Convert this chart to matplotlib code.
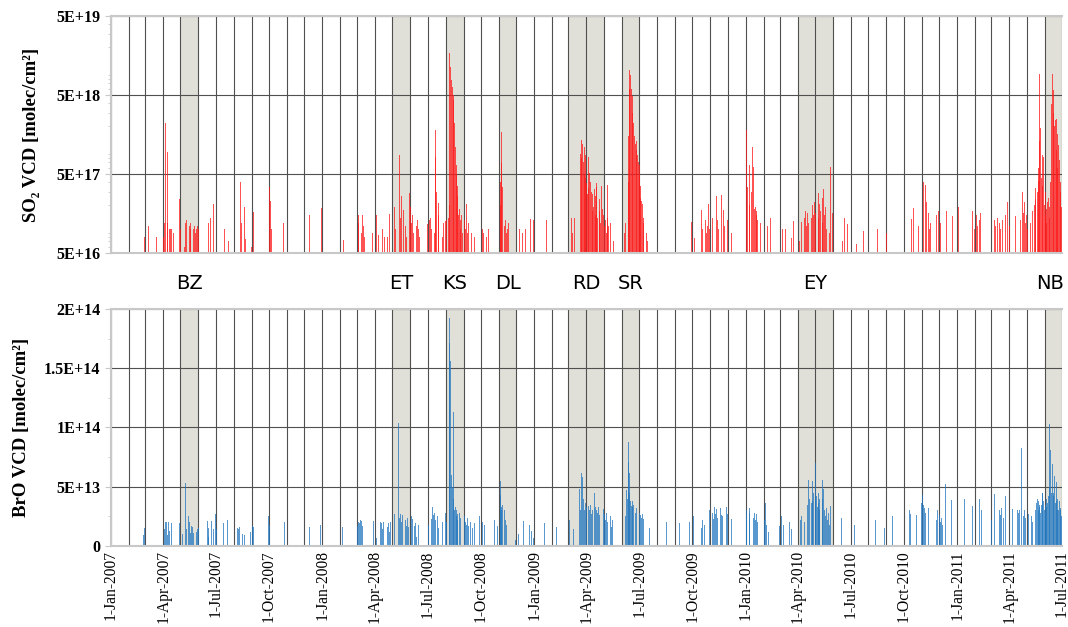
import datetime as dt
import matplotlib
matplotlib.use("Agg")
import matplotlib.pyplot as plt
import matplotlib.dates as mdates
from matplotlib.ticker import FixedLocator, LogLocator, MultipleLocator, FuncFormatter, NullFormatter

# SO2 daily values, units of 1E+16 molec/cm2 ("MM-DD", value)
so2_2007 = [("02-20",10),("02-28",8),("03-07",11),("03-20",8),("04-02",8),("04-04",12),("04-05",220),("04-06",29),
            ("04-08",95),("04-09",12),("04-12",10),("04-14",10),("04-16",10),("04-18",40),("04-19",9),("04-30",24),
            ("05-01",10),("05-08",6),("05-10",12),("05-12",13),("05-14",9),("05-16",11),("05-18",12),("05-19",10),
            ("05-21",12),("05-23",10),("05-25",11),("05-27",9),("05-29",10),("05-31",11),("06-01",10),("06-19",12),
            ("06-22",14),("06-27",21),("07-03",14),("07-16",10),("07-23",7),("08-10",6),("08-13",40),("08-14",12),
            ("08-19",19),("08-22",7.5),("09-01",6),("09-04",16.5),("09-05",14),("10-01",65),("10-02",34),("10-03",23),
            ("10-05",10),("10-26",12),("11-25",34),("12-10",15),("12-31",18.5)]
so2_2008 = [("02-07",7.3),("03-03",15),("03-04",12),("03-06",14),("03-08",9),("03-10",15),("03-12",11),("03-14",8),
            ("03-25",15.5),("03-27",9),("04-04",15),("04-07",8.5),("04-14",10),("04-17",8),("04-22",8),("04-26",15.5),
            ("05-05",19),("05-07",10),("05-09",16),("05-13",87),("05-14",35),("05-15",14),("05-17",26),("05-20",17.5),
            ("05-23",11),("05-25",8),("05-31",29),("06-01",19),("06-03",12),("06-05",15),("06-07",9),("06-09",17),
            ("06-11",11),("06-13",13),("06-15",10),("06-17",8),
            ("07-01",11.5),("07-04",13),("07-06",14),("07-08",10),("07-10",12),("07-12",9),("07-14",180),("07-15",82),
            ("07-16",30),("07-17",40),("07-19",21.5),("07-20",15),("07-22",9),("07-24",10),("07-26",8),("07-28",12),
            ("08-01",12.6),("08-03",13),("08-05",12),("08-06",14),("08-07",20),("08-08",1700),("08-09",1140),
            ("08-10",900),("08-11",780),("08-12",700),("08-13",640),("08-14",500),("08-15",430),("08-16",220),
            ("08-17",150),("08-18",110),("08-19",65),("08-20",50),("08-21",35),("08-22",26),("08-23",15),("08-24",12),
            ("08-25",18),("08-26",13),("08-27",10),("08-28",15),("08-29",12),("08-30",9),("08-31",14),
            ("09-02",13),("09-04",10),("09-06",21),("09-08",9),("09-10",12),("09-12",20),("09-14",9),("09-17",11),
            ("09-20",8),("09-24",10),("10-01",12),("10-03",10),("10-05",9),("10-08",11),("10-11",8),("10-14",10),
            ("10-25",16),("10-27",10),("11-03",20),("11-04",40),("11-05",170),("11-06",69),("11-07",34),("11-08",14),
            ("11-10",11),("11-12",13),("11-14",9),("11-16",10),("11-18",12),("11-20",8),
            ("12-07",10),("12-12",9),("12-17",10),("12-25",13.5),("12-30",13)]
so2_2009 = [("01-22",13),("02-11",11.5),("03-06",14),("03-08",9),("03-11",14),("03-19",20),("03-21",60),("03-22",90),
            ("03-23",135),("03-24",80),("03-25",120),("03-26",200),("03-27",70),("03-28",110),("03-29",50),("03-30",87),
            ("03-31",45),("04-01",38),("04-02",20),("04-03",28),("04-04",83),("04-05",33),("04-06",52),("04-07",25),
            ("04-08",40),("04-09",22),("04-10",30),("04-11",17),("04-12",28),("04-13",19),("04-14",38),("04-15",32),
            ("04-16",15),("04-17",26),("04-18",34),("04-19",38),("04-20",14),("04-21",22),("04-23",17),("04-24",24),
            ("04-25",12),("04-27",35),("04-28",14),("04-29",18),("05-01",15),("05-02",11),("05-04",13),("05-05",9),
            ("05-07",14),("05-08",36),("05-09",11),("05-10",8),("05-12",12),("05-15",10),("05-18",7),
            ("06-03",7),("06-06",9),("06-08",12),("06-10",23),("06-12",40),("06-13",150),("06-14",600),("06-15",1040),
            ("06-16",900),("06-17",780),("06-18",600),("06-19",480),("06-20",300),("06-21",220),("06-22",180),
            ("06-23",150),("06-24",135),("06-25",120),("06-26",130),("06-27",100),("06-28",87),("06-29",75),
            ("06-30",70),("07-01",65),("07-02",50),("07-03",35),("07-04",25),("07-05",23),("07-06",18),("07-07",21),
            ("07-08",14),("07-09",12),("07-11",15),("07-13",11),("07-14",9),("07-16",7),
            ("08-18",9.5),("09-13",11.5),("09-29",12.5),("10-05",7.8),("10-17",17.5),("10-19",10),("10-21",12),
            ("10-23",13),("10-25",9),("10-27",11),("10-29",21),("10-31",10),("11-02",12),("11-04",14),("11-11",26),
            ("11-13",13),("11-15",10),("11-20",27),("11-23",17.5),("11-26",11),("11-30",13),("12-03",10),("12-05",10),
            ("12-07",9)]
so2_2010 = [("01-03",180),("01-04",34),("01-05",25),("01-07",65),("01-08",20),("01-10",155),("01-11",30),("01-13",110),
            ("01-15",62),("01-16",18),("01-17",16),("01-18",19),("01-19",15),("01-20",17),("01-22",13),("01-24",16),
            ("01-26",12),("02-05",21),("02-08",11),("02-13",14),("02-19",8.5),("03-05",10),("03-08",9),("03-11",10),
            ("03-21",7.7),("03-24",12.6),("04-04",7),("04-08",12.5),("04-12",14),("04-14",17),("04-16",11),("04-18",16),
            ("04-20",12),("04-22",18),("04-24",14),("04-26",20),("04-28",15),("04-30",22),("05-02",16),("05-04",19),
            ("05-06",29),("05-07",14),("05-08",21),("05-10",17),("05-11",24),("05-13",25),("05-14",12),("05-16",32),
            ("05-17",15),("05-19",19),("05-21",10),("05-23",13),("05-25",9),("05-28",62),("05-30",26),("05-31",16),
            ("06-17",7),("06-21",14),("06-26",11.5),("07-11",6.5),("07-24",9.5),("08-16",10),("09-01",9),("09-14",11),
            ("10-14",13.5),("10-18",18.5),("10-27",11),("11-03",390),("11-04",40),("11-05",62),("11-07",36),
            ("11-09",22),("11-10",14),("11-12",16),("11-14",10),("11-16",12),("11-27",15),("11-30",17),("12-03",12),
            ("12-06",14),("12-14",17),("12-24",14.5),("12-30",14)]
so2_2011 = [("01-03",19),("01-18",22),("01-28",17),("01-31",10),("02-03",15),("02-05",11),("02-08",13),("02-10",16),
            ("03-07",13),("03-09",11),("03-12",14),("03-15",12),("03-17",10),("03-20",13),("03-23",12),("03-26",15),
            ("03-29",22),("04-01",11),("04-12",14.5),("04-21",13),("04-23",14),("04-24",29.5),("04-26",16),("04-27",22),
            ("04-29",12),("05-01",15),("05-03",10),("05-08",12),("05-11",17),("05-14",20),("05-16",24),("05-17",33),
            ("05-19",25),("05-20",30),("05-21",41),("05-22",60),("05-23",920),("05-24",130),("05-25",190),("05-26",130),
            ("05-27",45),("05-28",87),("05-29",35),("05-30",82),("05-31",28),("06-01",20),("06-02",15),("06-03",30),
            ("06-04",12),("06-05",18),("06-06",22),("06-07",11),("06-08",25),("06-09",14),("06-10",19),("06-11",40),
            ("06-12",180),("06-13",390),("06-14",150),("06-15",920),("06-16",300),("06-17",580),("06-18",200),
            ("06-19",120),("06-20",240),("06-21",250),("06-22",100),("06-23",160),("06-24",60),("06-25",115),
            ("06-26",45),("06-27",75),("06-28",30),("06-29",40),("06-30",19)]

# BrO daily values, units of 1E+12 molec/cm2
bro_2007 = [("02-20",17.5),("02-26",9),("02-28",15),("03-06",12),("03-18",19),("04-01",20),("04-03",14),("04-05",20),
            ("04-07",20),("04-09",9),("04-10",20),("04-12",13),("04-15",19),("04-30",19.5),("05-02",14),("05-04",10),
            ("05-10",53),("05-12",14),("05-14",19),("05-15",25),("05-17",20),("05-19",11),("05-20",17),("05-22",16),
            ("05-24",11),("05-26",17),("05-28",12),("05-30",14),("06-01",15),("06-17",21),("06-18",8),("06-19",15),
            ("06-21",17),("06-23",21),("06-27",14),("06-30",27),("07-02",14),("07-15",19),("07-21",22),("08-07",15),
            ("08-09",14),("08-11",16),("08-16",10),("08-19",9),("08-30",12),("09-03",17),("09-04",16),("09-29",26),
            ("09-30",25),("10-01",24),("10-02",18),("10-27",20),("11-25",42),("12-10",16),("12-29",17.5)]
bro_2008 = [("02-05",16),("03-02",17),("03-04",20),("03-05",19),("03-07",22),("03-09",21),("03-11",17),("03-25",16),
            ("03-29",21),("04-03",7),("04-10",20),("04-12",19),("04-14",14),("04-16",20),("04-20",30),("04-22",16),
            ("04-24",19),("04-26",12),("04-28",20),("05-05",27),("05-09",102),("05-12",104),("05-13",24),("05-15",27),
            ("05-17",20),("05-19",26),("05-21",19),("05-23",22),("05-25",17),("05-27",24),("05-29",16),("06-03",25),
            ("06-05",23),("06-08",17),("06-10",19),("06-12",8),("06-15",18),
            ("07-02",18),("07-05",25),("07-07",23),("07-09",33),("07-11",26),("07-13",28),("07-15",22),("07-18",25),
            ("07-20",15),("07-22",25),("07-24",18),("07-27",20),("08-01",28),("08-03",20),("08-05",25),("08-07",192),
            ("08-08",171),("08-09",156),("08-10",123),("08-11",60),("08-12",45),("08-13",50),("08-14",40),
            ("08-15",113),("08-16",30),("08-17",28),("08-18",33),("08-19",25),("08-20",30),("08-21",22),("08-22",27),
            ("08-24",20),("08-25",28),("08-27",24),("08-29",18),("08-31",22),("09-02",25),("09-04",20),("09-06",18),
            ("09-08",24),("09-10",17),("09-13",20),("09-16",15),("09-20",19),("09-28",25),("10-04",20),("10-07",18),
            ("10-24",22),("10-27",21),("10-29",17),("11-03",55),("11-04",43),("11-05",33),("11-06",30),("11-07",35),
            ("11-08",28),("11-10",30),("11-12",22),("11-14",18),("11-30",5),("12-04",10),("12-13",21),("12-24",18),
            ("12-27",13),("12-30",7)]
bro_2009 = [("01-19",19),("02-09",16),("03-03",22),("03-07",18),("03-09",14),("03-20",48),("03-21",40),("03-22",30),
            ("03-24",62),("03-25",58),("03-26",35),("03-27",40),("03-28",30),("03-30",36),("04-01",33),("04-02",28),
            ("04-04",34),("04-06",30),("04-08",35),("04-10",27),("04-12",30),("04-14",52),("04-15",45),("04-16",33),
            ("04-18",30),("04-20",28),("04-22",33),("04-24",26),("04-26",30),("04-28",24),("04-30",31),("05-02",27),
            ("05-04",22),("05-06",28),("05-08",20),("05-10",18),("05-12",25),("05-14",16),("05-16",22),
            ("06-03",15),("06-05",20),("06-07",25),("06-09",47),("06-11",40),("06-12",88),("06-13",71),("06-14",62),
            ("06-15",45),("06-16",38),("06-17",36),("06-18",34),("06-19",38),("06-20",33),("06-21",35),("06-22",30),
            ("06-24",36),("06-25",28),("06-27",32),("06-29",25),("07-01",28),("07-03",26),("07-05",24),("07-07",27),
            ("07-09",23),("07-19",15),("08-17",20),("09-09",19),("09-26",20),("10-03",25),("10-14",20),("10-16",15),
            ("10-19",22),("10-22",18),("10-28",30),("10-30",30),("11-02",25),("11-04",28),("11-06",23),("11-08",33),
            ("11-10",27),("11-12",31),("11-14",24),("11-16",29),("11-18",32),("11-20",26),("11-22",25),("11-29",33),
            ("12-01",27),("12-07",23)]
bro_2010 = [("01-02",25),("01-03",30),("01-05",33),("01-07",28),("01-08",32),("01-10",26),("01-12",30),("01-14",24),
            ("01-16",28),("01-18",22),("01-20",27),("01-22",20),("01-24",25),("01-31",17),("02-02",22),("02-04",36),
            ("02-06",18),("02-09",12),("03-01",17),("03-04",25),("03-07",18),("03-18",20),("03-21",14),("04-06",22),
            ("04-08",25),("04-10",31),("04-12",20),("04-15",28),("04-18",35),("04-20",56),("04-21",40),("04-22",30),
            ("04-24",36),("04-26",55),("04-27",38),("04-28",45),("04-29",35),("05-01",40),("05-02",70),("05-03",42),
            ("05-04",38),("05-05",33),("05-06",45),("05-07",36),("05-08",30),("05-09",40),("05-11",35),("05-13",56),
            ("05-14",40),("05-16",48),("05-17",30),("05-18",38),("05-19",25),("05-20",32),("05-22",22),("05-24",28),
            ("05-26",18),("05-28",34),("05-30",20),("06-06",25),("06-16",24),("06-25",32),("07-08",18),("07-19",15),
            ("08-13",22),("08-29",15),("09-11",25),("10-11",30),("10-13",27),("10-15",32),("10-17",26),("10-23",26),
            ("10-29",30),("10-31",36),("11-02",43),("11-04",35),("11-06",32),("11-08",28),("11-13",32),("11-26",22),
            ("11-28",30),("12-01",26),("12-03",20),("12-05",24),("12-07",18),("12-12",52),("12-22",39),("12-30",27)]
bro_2011 = [("01-14",40),("01-25",34),("01-28",34),("02-08",40),("02-12",30),("03-01",22),("03-04",20),("03-07",44),
            ("03-15",30),("03-17",26),("03-19",32),("03-22",24),("03-26",42),("04-07",31),("04-15",30),("04-17",28),
            ("04-19",30),("04-22",83),("04-23",30),("04-25",25),("04-27",30),("04-29",24),("05-05",27),("05-07",33),
            ("05-09",25),("05-11",20),("05-17",30),("05-18",36),("05-19",32),("05-20",40),("05-21",30),("05-22",38),
            ("05-23",33),("05-24",35),("05-25",28),("05-26",40),("05-27",35),("05-28",45),("05-29",45),("05-30",38),
            ("05-31",30),("06-01",30),("06-02",35),("06-03",28),("06-04",33),("06-05",40),("06-06",36),("06-07",98),
            ("06-08",42),("06-09",50),("06-10",103),("06-11",81),("06-12",54),("06-13",45),("06-14",38),("06-15",69),
            ("06-16",45),("06-17",42),("06-18",59),("06-19",40),("06-20",36),("06-21",54),("06-22",38),("06-23",30),
            ("06-24",40),("06-25",30),("06-26",34),("06-27",38),("06-28",32),("06-29",30),("06-30",25)]

so2_years = {2007: so2_2007, 2008: so2_2008, 2009: so2_2009, 2010: so2_2010, 2011: so2_2011}
bro_years = {2007: bro_2007, 2008: bro_2008, 2009: bro_2009, 2010: bro_2010, 2011: bro_2011}
SO2_UNIT = 1e16
BRO_UNIT = 1e12

# eruption periods (shaded)
event_names = ["BZ", "ET", "KS", "DL", "RD", "SR", "EY", "NB"]
event_start = ["2007-05-01", "2008-05-01", "2008-08-01", "2008-11-01", "2009-03-01", "2009-06-01", "2010-04-01", "2011-06-01"]
event_end = ["2007-06-01", "2008-06-01", "2008-09-01", "2008-12-01", "2009-05-01", "2009-07-01", "2010-06-01", "2011-07-01"]

so2_ticks = [5e16, 5e17, 5e18, 5e19]
so2_ticklabels = ["5E+16", "5E+17", "5E+18", "5E+19"]
bro_ticks = [0, 5e13, 1e14, 1.5e14, 2e14]
bro_ticklabels = ["0", "5E+13", "1E+14", "1.5E+14", "2E+14"]


def collect(years, unit):
    xs, ys = [], []
    for year, pairs in years.items():
        for md, v in pairs:
            d = dt.datetime.strptime(f"{year}-{md}", "%Y-%m-%d")
            xs.append(mdates.date2num(d))
            ys.append(v * unit)
    return xs, ys


def d2n(s):
    return mdates.date2num(dt.datetime.strptime(s, "%Y-%m-%d"))


serif = ["Liberation Serif", "DejaVu Serif"]
fig = plt.figure(figsize=(10.68, 6.27), dpi=100)
ax1 = fig.add_axes([0.1039, 0.5965, 0.8904, 0.378])
ax2 = fig.add_axes([0.1039, 0.1292, 0.8904, 0.378])

x0, x1 = d2n("2007-01-01"), d2n("2011-07-01")
grid_col = "#505050"
spine_col = "#c8c8c8"

for ax in (ax1, ax2):
    for s, e in zip(event_start, event_end):
        ax.axvspan(d2n(s), d2n(e), color="#e0dfd8", zorder=0, lw=0)
    ax.set_xlim(x0, x1)
    ax.xaxis.set_major_locator(mdates.MonthLocator(bymonth=[1, 4, 7, 10]))
    ax.xaxis.set_minor_locator(mdates.MonthLocator())
    ax.grid(True, which="both", axis="x", color=grid_col, lw=0.8, zorder=1)
    ax.grid(True, which="major", axis="y", color=grid_col, lw=0.8, zorder=1)
    for sp in ax.spines.values():
        sp.set_color(spine_col)
        sp.set_linewidth(1.5)
    ax.spines["right"].set_visible(False)
    ax.tick_params(axis="x", which="both", length=0)
    ax.tick_params(axis="y", which="both", colors=spine_col, labelcolor="black")
    ax.tick_params(axis="y", which="major", length=4)
    ax.tick_params(axis="y", which="minor", length=2.5)
    ax.set_axisbelow(True)

# SO2 panel
sx, sy = collect(so2_years, SO2_UNIT)
base = so2_ticks[0]
ax1.set_yscale("log")
ax1.set_ylim(so2_ticks[0], so2_ticks[-1])
ax1.bar(sx, [v - base for v in sy], bottom=base, width=1.4, color="#ff1a1a", alpha=0.75, lw=0, zorder=2)
ax1.yaxis.set_major_locator(FixedLocator(so2_ticks))
ax1.yaxis.set_major_formatter(FuncFormatter(lambda v, p: so2_ticklabels[so2_ticks.index(v)] if v in so2_ticks else ""))
ax1.yaxis.set_minor_locator(LogLocator(base=10, subs=(2, 3, 4, 6, 7, 8, 9)))
ax1.yaxis.set_minor_formatter(NullFormatter())
ax1.set_xticklabels([])
ax1.set_ylabel("SO₂ VCD [molec/cm²]", family=serif, fontweight="bold", fontsize=13.5, labelpad=12)

# BrO panel
bx, by = collect(bro_years, BRO_UNIT)
ax2.set_ylim(0, 2e14)
ax2.bar(bx, by, width=1.4, color="#2277c0", alpha=0.75, lw=0, zorder=2)
ax2.yaxis.set_major_locator(FixedLocator(bro_ticks))
ax2.yaxis.set_major_formatter(FuncFormatter(lambda v, p: bro_ticklabels[bro_ticks.index(v)] if v in bro_ticks else ""))
ax2.yaxis.set_minor_locator(MultipleLocator(2.5e13))
ax2.set_ylabel("BrO VCD [molec/cm²]", family=serif, fontweight="bold", fontsize=13.5, labelpad=10)
ax2.xaxis.set_major_formatter(FuncFormatter(lambda v, p: "%d-%s" % (mdates.num2date(v).day, mdates.num2date(v).strftime("%b-%Y"))))

for lab in ax1.get_yticklabels() + ax2.get_yticklabels():
    lab.set_family(serif)
    lab.set_fontweight("bold")
    lab.set_fontsize(11.5)
for lab in ax2.get_xticklabels():
    lab.set_family(serif)
    lab.set_fontsize(11.2)
    lab.set_rotation(90)
ax2.tick_params(axis="x", pad=3)

# event labels between the panels
for name, s, e in zip(event_names, event_start, event_end):
    xm = (d2n(s) + d2n(e)) / 2
    if name == "NB":
        xm -= 6
    ax1.text(xm, -0.127, name, transform=ax1.get_xaxis_transform(), ha="center", va="center",
             fontsize=14, family="DejaVu Sans")

fig.savefig("out.png", dpi=100)
